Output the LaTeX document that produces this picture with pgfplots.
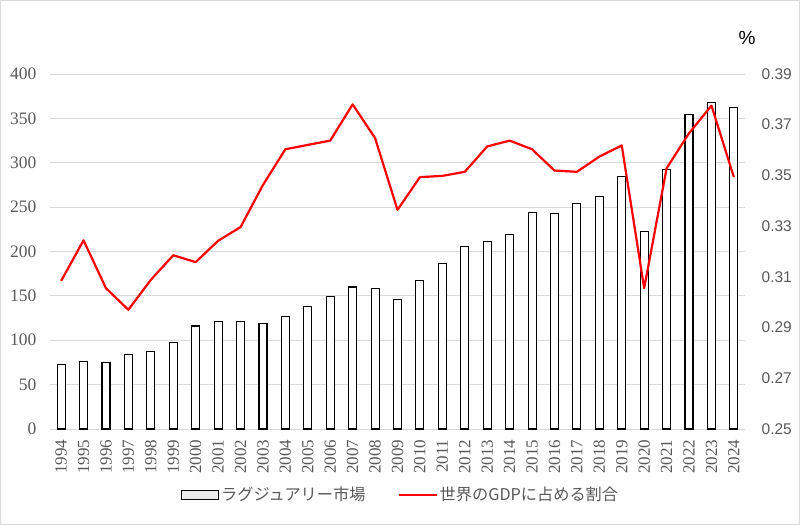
\documentclass[border=0pt]{standalone}
\usepackage{pgfplots}
\pgfplotsset{compat=1.18}
\usepackage{fontspec}
\setmainfont{Liberation Serif}
\newfontfamily\sansf{Liberation Sans}
\newfontfamily\cjk{Noto Sans CJK JP}
\definecolor{txt}{HTML}{595959}
\definecolor{gridc}{HTML}{D9D9D9}
\begin{document}
\begin{tikzpicture}
\pgfplotsset{
  base/.style={
    scale only axis, width=695pt, height=355pt,
    xmin=-0.5, xmax=30.5,
    /pgf/number format/assume math mode=true,
    tick style={draw=none},
    ticklabel style={text=txt},
  }
}
\begin{axis}[base,
  ymin=0, ymax=400, ytick={0,50,...,400},
  ymajorgrids, grid style={draw=gridc, line width=0.8pt},
  axis line style={draw=none},
  yticklabel style={anchor=east, xshift=-10pt, font=\fontsize{17.5}{19}\selectfont},
  xtick={0,...,30},
  xticklabels={1994,1995,1996,1997,1998,1999,2000,2001,2002,2003,2004,2005,2006,2007,2008,2009,2010,2011,2012,2013,2014,2015,2016,2017,2018,2019,2020,2021,2022,2023,2024},
  xticklabel style={rotate=90, anchor=east, xshift=-7pt, font=\fontsize{17}{18}\selectfont},
  legend style={at={(0.5045,-0.185)}, anchor=center, draw=none, fill=none,
    legend columns=2, font=\cjk\fontsize{16.2}{18}\selectfont, text=txt,
    /tikz/every even column/.append style={column sep=30pt}},
]
\addplot[ybar, bar width=8pt, fill=white, draw=black, line width=1.1pt,
  legend image code/.code={\draw[fill=white!92!black, draw=black, line width=1pt] (0pt,-4.5pt) rectangle (37pt,4pt);}]
coordinates {
(0,73) (1,76) (2,75) (3,84) (4,87) (5,97) (6,116) (7,121) (8,121) (9,119)
(10,127) (11,138) (12,149) (13,160) (14,158) (15,146) (16,167) (17,186) (18,206) (19,211)
(20,219) (21,244) (22,243) (23,254) (24,262) (25,284) (26,222) (27,292) (28,354) (29,368) (30,362)
};
\addlegendentry{ラグジュアリー市場}
\addlegendimage{red, line width=2.2pt, legend image code/.code={\draw[red, line width=2.2pt] (0pt,0pt) -- (38pt,0pt);}}
\addlegendentry{世界のGDPに占める割合}
\end{axis}
\begin{axis}[base, clip=false,
  ymin=0.25, ymax=0.39,
  ytick={0.25,0.27,0.29,0.31,0.33,0.35,0.37,0.39},
  yticklabels={0.25,0.27,0.29,0.31,0.33,0.35,0.37,0.39},
  axis y line*=right, axis x line=none,
  axis line style={draw=none},
  yticklabel style={anchor=west, xshift=13pt, font=\sansf\fontsize{15.5}{17}\selectfont},
]
\addplot[red, line width=2.2pt, line join=round] coordinates {
(0,0.3084) (1,0.3244) (2,0.3055) (3,0.2970) (4,0.3088) (5,0.3185) (6,0.3158) (7,0.3242) (8,0.3296) (9,0.3462)
(10,0.3603) (11,0.3620) (12,0.3637) (13,0.3780) (14,0.3647) (15,0.3364) (16,0.3493) (17,0.3498) (18,0.3514) (19,0.3614)
(20,0.3637) (21,0.3603) (22,0.3519) (23,0.3514) (24,0.3574) (25,0.3618) (26,0.3055) (27,0.3528) (28,0.3666) (29,0.3775) (30,0.3493)
};
\node[font=\sansf\fontsize{19}{21}\selectfont, text=black] at (rel axis cs:1.003,1.101) {\%};
\end{axis}
\draw[gridc, line width=0.8pt] (-49.5pt,-95.5pt) rectangle (749.5pt,428.5pt);
\end{tikzpicture}
\end{document}
